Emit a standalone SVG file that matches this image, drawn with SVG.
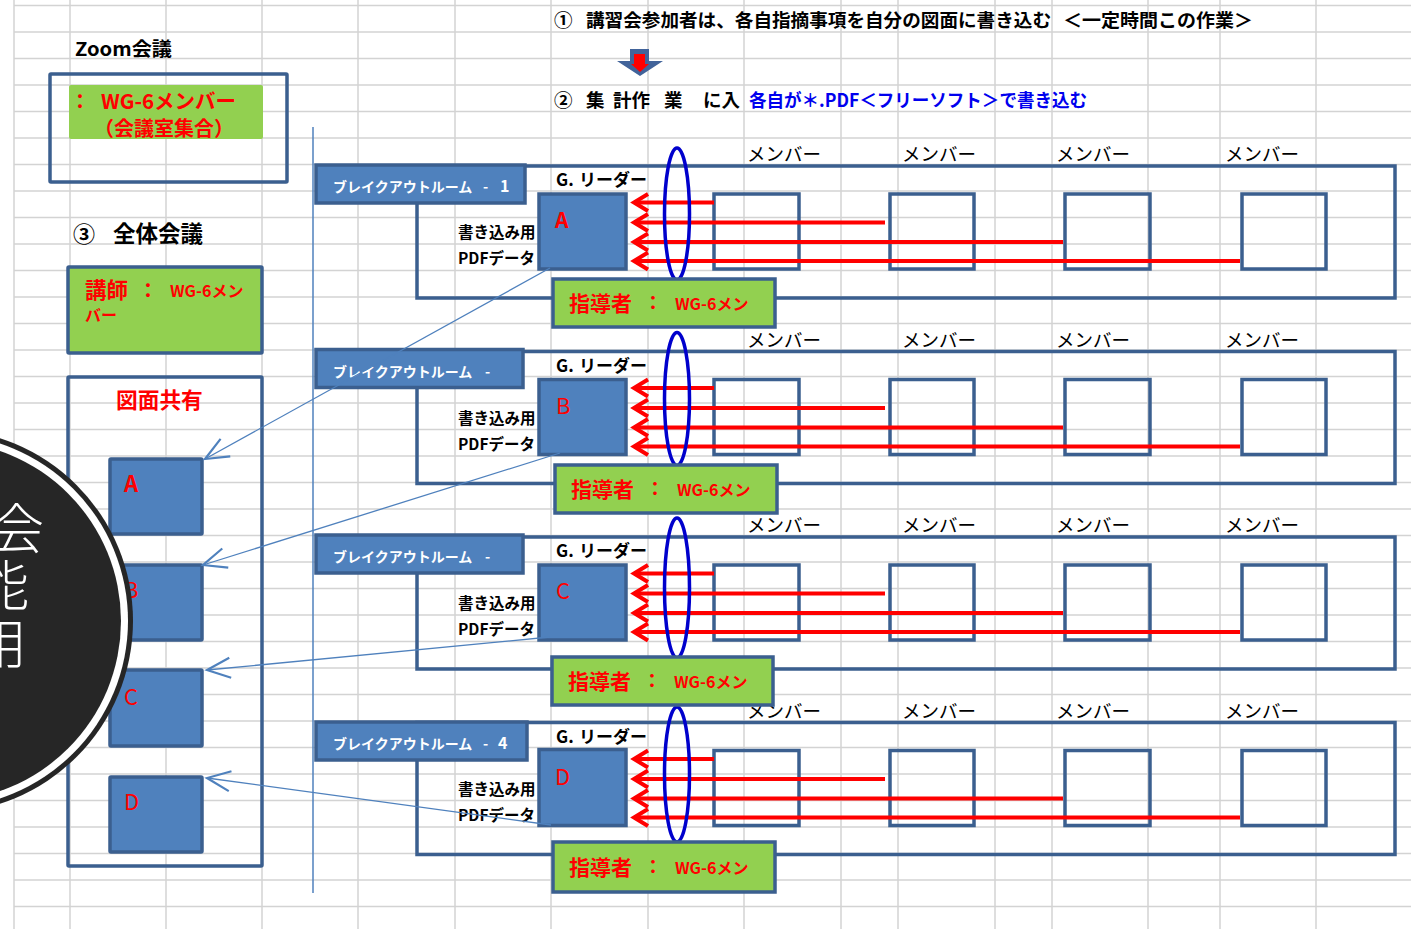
<svg xmlns="http://www.w3.org/2000/svg" width="1411" height="929" viewBox="0 0 1411 929">
<defs>
<style>
.grid{stroke:#d3d3d3;stroke-width:1.5;fill:none}
.frame{fill:none;stroke:#3b5f8f;stroke-width:3.5}
.bbox{fill:#4f81bd;stroke:#3b5f8f;stroke-width:3.5}
.gbox{fill:#92d050;stroke:#3b5f8f;stroke-width:3.5}
.ra{stroke:#ff0000;stroke-width:4;fill:none}
.ell{fill:none;stroke:#0000cc;stroke-width:3.5}
.conn{stroke:#4f81bd;stroke-width:1.3;fill:none;marker-end:url(#open)}
text{font-family:"Noto Sans CJK JP","Noto Sans",sans-serif}
.b{font-weight:bold}
.red{fill:#ff0000}
.blk{fill:#000000}
.wht{fill:#ffffff}
.mem{font-size:18.5px;fill:#000}
.ttl{font-size:14px;font-weight:bold;fill:#fff}
.num{font-size:16px;font-weight:bold;fill:#fff}
.lead{font-size:17px;font-weight:bold;fill:#000}
.pdf{font-size:15.5px;font-weight:bold;fill:#000}
</style>
<marker id="open" markerUnits="userSpaceOnUse" markerWidth="30" markerHeight="30" viewBox="-16 -8 18 16" refX="0" refY="0" orient="auto">
<path d="M-14,-6 L0,0 L-14,6" fill="none" stroke="#4f81bd" stroke-width="1.3"/>
</marker>
</defs>
<rect x="0" y="0" width="1411" height="929" fill="#ffffff"/>
<g id="grid" class="grid">
<path d="M14,0V929M70,0V929M166,0V929M262,0V929M358,0V929M455,0V929M551,0V929M648,0V929M744,0V929M841,0V929M898,0V929M995,0V929M1052,0V929M1148,0V929M1220,0V929M1316,0V929"/>
<path d="M14,5.5H1411M14,32H1411M14,58.5H1411M14,85H1411M14,111.5H1411M14,138H1411M14,164.5H1411M14,191H1411M14,217.5H1411M14,244H1411M14,270.5H1411M14,297H1411M14,323.5H1411M14,350H1411M14,376.5H1411M14,403H1411M14,429.5H1411M14,456H1411M14,482.5H1411M14,509H1411M14,535.5H1411M14,562H1411M14,588.5H1411M14,615H1411M14,641.5H1411M14,668H1411M14,694.5H1411M14,721H1411M14,747.5H1411M14,774H1411M14,800.5H1411M14,827H1411M14,853.5H1411M14,880H1411M14,906.5H1411"/>
</g>

<g id="step1">
<text x="554" y="27" class="b" font-size="18.5">①</text>
<text x="586" y="27" class="b" font-size="18.5" textLength="465" lengthAdjust="spacingAndGlyphs">講習会参加者は、各自指摘事項を自分の図面に書き込む</text>
<text x="1063" y="27" class="b" font-size="18.5" textLength="190" lengthAdjust="spacingAndGlyphs">＜一定時間この作業＞</text>
</g>
<g id="down-arrow">
<path d="M630,49 L649,49 L649,61 L663,61 L640,76 L617,61 L630,61 Z" fill="#41639a"/>
<path d="M634,54 L645,54 L645,64 L649,64 L640,72 L631,64 L634,64 Z" fill="#ff0000"/>
</g>
<g id="step2">
<text x="554" y="107" class="b" font-size="18.5">②</text>
<text x="586" y="107" class="b" font-size="18.5">集</text>
<text x="613" y="107" class="b" font-size="18.5">計作</text>
<text x="664" y="107" class="b" font-size="18.5">業</text>
<text x="703" y="107" class="b" font-size="18.5">に入</text>
<text x="749" y="107" class="b" font-size="18" fill="#0000ee" textLength="338" lengthAdjust="spacingAndGlyphs">各自が＊.PDF＜フリーソフト＞で書き込む</text>
</g>

<g id="zoom-meeting">
<text x="75" y="56" class="b" font-size="19" textLength="97" lengthAdjust="spacingAndGlyphs">Zoom会議</text>
<rect class="frame" x="50" y="74" width="237" height="108" rx="1"/>
<rect x="69" y="85" width="194" height="54" rx="2" fill="#92d050"/>
<text x="80" y="109" class="b red" font-size="20" text-anchor="middle">：</text>
<text x="101" y="109" class="b red" font-size="20.5">WG-6メンバー</text>
<text x="94" y="136" class="b red" font-size="20">（会議室集合）</text>
</g>

<g id="plenary-title">
<text x="73" y="242" class="b" font-size="22">③</text>
<text x="113" y="242" class="b" font-size="22.5">全体会議</text>
</g>
<g id="lecturer">
<rect class="gbox" x="68" y="267" width="194" height="86" rx="1"/>
<text x="85" y="298" class="b red" font-size="21.5">講師</text>
<text x="148" y="298" class="b red" font-size="20" text-anchor="middle">：</text>
<text x="170" y="297" class="b red" font-size="16">WG-6メン</text>
<text x="85" y="321" class="b red" font-size="16">バー</text>
</g>
<g id="drawing-share">
<rect class="frame" x="68" y="377" width="194" height="489" rx="1"/>
<text x="116" y="408" class="b red" font-size="21.7">図面共有</text>
<rect class="bbox" x="110" y="459" width="92" height="75" rx="1"/>
<text x="124" y="492" class="b red" font-size="22">A</text>
<rect class="bbox" x="110" y="565" width="92" height="75" rx="1"/>
<text x="124" y="598" class="red" font-size="22">B</text>
<rect class="bbox" x="110" y="670" width="92" height="76" rx="1"/>
<text x="124" y="705" class="red" font-size="22">C</text>
<rect class="bbox" x="110" y="777" width="92" height="75" rx="1"/>
<text x="124" y="810" class="red" font-size="22">D</text>
</g>

<g id="divider">
<line x1="313" y1="127" x2="313" y2="893" stroke="#4f81bd" stroke-width="1.5"/>
</g>

<g id="room1">
<rect class="frame" x="417" y="166" width="978" height="132"/>
<text x="747" y="161" class="mem">メンバー</text>
<text x="902" y="161" class="mem">メンバー</text>
<text x="1056" y="161" class="mem">メンバー</text>
<text x="1225" y="161" class="mem">メンバー</text>
<rect class="frame" x="714" y="194" width="85" height="75"/>
<rect class="frame" x="890" y="194" width="84" height="75"/>
<rect class="frame" x="1065" y="194" width="85" height="75"/>
<rect class="frame" x="1242" y="194" width="84" height="75"/>
<path class="ra" d="M636,202.5H714M636,222.5H885M636,242H1063M636,261H1240"/>
<path class="ra" d="M648,194L634,202.5L648,211M648,214L634,222.5L648,231M648,233.5L634,242L648,250.5M648,252.5L634,261L648,269.5"/>
<ellipse class="ell" cx="677" cy="214" rx="12.5" ry="66"/>
<rect class="bbox" x="539" y="194" width="87" height="75"/>
<text x="555" y="228" class="b red" font-size="21">A</text>
<text x="556" y="186" class="lead">G.</text>
<text x="579" y="186" class="lead">リーダー</text>
<text x="458" y="238" class="pdf">書き込み用</text>
<text x="458" y="264" class="pdf">PDFデータ</text>
<rect class="bbox" x="316" y="165" width="209" height="38"/>
<text x="333" y="192" class="ttl">ブレイクアウトルーム</text>
<text x="483" y="192" class="ttl">-</text>
<text x="500" y="192" class="num">1</text>
</g>

<g id="room2" transform="translate(0,185.5)">
<rect class="frame" x="417" y="166" width="978" height="132"/>
<text x="747" y="161" class="mem">メンバー</text>
<text x="902" y="161" class="mem">メンバー</text>
<text x="1056" y="161" class="mem">メンバー</text>
<text x="1225" y="161" class="mem">メンバー</text>
<rect class="frame" x="714" y="194" width="85" height="75"/>
<rect class="frame" x="890" y="194" width="84" height="75"/>
<rect class="frame" x="1065" y="194" width="85" height="75"/>
<rect class="frame" x="1242" y="194" width="84" height="75"/>
<path class="ra" d="M636,202.5H714M636,222.5H885M636,242H1063M636,261H1240"/>
<path class="ra" d="M648,194L634,202.5L648,211M648,214L634,222.5L648,231M648,233.5L634,242L648,250.5M648,252.5L634,261L648,269.5"/>
<ellipse class="ell" cx="677" cy="213.5" rx="12.5" ry="66.5"/>
<rect class="bbox" x="539" y="194" width="87" height="75"/>
<text x="556" y="228" class="red" font-size="22">B</text>
<text x="556" y="186" class="lead">G.</text>
<text x="579" y="186" class="lead">リーダー</text>
<text x="458" y="238" class="pdf">書き込み用</text>
<text x="458" y="264" class="pdf">PDFデータ</text>
<rect class="bbox" x="316" y="164" width="207" height="38"/>
<text x="333" y="191" class="ttl">ブレイクアウトルーム</text>
<text x="485" y="191" class="ttl">-</text>
</g>

<g id="room3" transform="translate(0,371)">
<rect class="frame" x="417" y="166" width="978" height="132"/>
<text x="747" y="161" class="mem">メンバー</text>
<text x="902" y="161" class="mem">メンバー</text>
<text x="1056" y="161" class="mem">メンバー</text>
<text x="1225" y="161" class="mem">メンバー</text>
<rect class="frame" x="714" y="194" width="85" height="75"/>
<rect class="frame" x="890" y="194" width="84" height="75"/>
<rect class="frame" x="1065" y="194" width="85" height="75"/>
<rect class="frame" x="1242" y="194" width="84" height="75"/>
<path class="ra" d="M636,202.5H714M636,222.5H885M636,242H1063M636,261H1240"/>
<path class="ra" d="M648,194L634,202.5L648,211M648,214L634,222.5L648,231M648,233.5L634,242L648,250.5M648,252.5L634,261L648,269.5"/>
<ellipse class="ell" cx="677" cy="217" rx="12.5" ry="70"/>
<rect class="bbox" x="539" y="194" width="87" height="75"/>
<text x="556" y="228" class="red" font-size="22">C</text>
<text x="556" y="186" class="lead">G.</text>
<text x="579" y="186" class="lead">リーダー</text>
<text x="458" y="238" class="pdf">書き込み用</text>
<text x="458" y="264" class="pdf">PDFデータ</text>
<rect class="bbox" x="316" y="164" width="207" height="38"/>
<text x="333" y="191" class="ttl">ブレイクアウトルーム</text>
<text x="485" y="191" class="ttl">-</text>
</g>

<g id="room4" transform="translate(0,556.5)">
<rect class="frame" x="417" y="166" width="978" height="132"/>
<text x="747" y="161" class="mem">メンバー</text>
<text x="902" y="161" class="mem">メンバー</text>
<text x="1056" y="161" class="mem">メンバー</text>
<text x="1225" y="161" class="mem">メンバー</text>
<rect class="frame" x="714" y="194" width="85" height="75"/>
<rect class="frame" x="890" y="194" width="84" height="75"/>
<rect class="frame" x="1065" y="194" width="85" height="75"/>
<rect class="frame" x="1242" y="194" width="84" height="75"/>
<path class="ra" d="M636,202.5H714M636,222.5H885M636,242H1063M636,261H1240"/>
<path class="ra" d="M648,194L634,202.5L648,211M648,214L634,222.5L648,231M648,233.5L634,242L648,250.5M648,252.5L634,261L648,269.5"/>
<ellipse class="ell" cx="677" cy="218" rx="12.5" ry="67.5"/>
<rect class="bbox" x="539" y="193" width="87" height="76"/>
<text x="555" y="228" class="red" font-size="22">D</text>
<text x="556" y="186" class="lead">G.</text>
<text x="579" y="186" class="lead">リーダー</text>
<text x="458" y="238" class="pdf">書き込み用</text>
<text x="458" y="264" class="pdf">PDFデータ</text>
<rect class="bbox" x="316" y="165.5" width="211" height="38"/>
<text x="333" y="192" class="ttl">ブレイクアウトルーム</text>
<text x="483" y="192" class="ttl">-</text>
<text x="498" y="192" class="num">4</text>
</g>

<g id="instructor1">
<rect class="gbox" x="553" y="279" width="222" height="48"/>
<text x="569" y="311" class="b red" font-size="21">指導者</text>
<text x="653" y="310" class="b red" font-size="19" text-anchor="middle">：</text>
<text x="675" y="310" class="b red" font-size="16">WG-6メン</text>
</g>
<g id="instructor2">
<rect class="gbox" x="555" y="465" width="222" height="48"/>
<text x="571" y="497" class="b red" font-size="21">指導者</text>
<text x="655" y="496" class="b red" font-size="19" text-anchor="middle">：</text>
<text x="677" y="496" class="b red" font-size="16">WG-6メン</text>
</g>
<g id="instructor3">
<rect class="gbox" x="552" y="657" width="221" height="48"/>
<text x="568" y="689" class="b red" font-size="21">指導者</text>
<text x="652" y="688" class="b red" font-size="19" text-anchor="middle">：</text>
<text x="674" y="688" class="b red" font-size="16">WG-6メン</text>
</g>
<g id="instructor4">
<rect class="gbox" x="553" y="842" width="222" height="50"/>
<text x="569" y="875" class="b red" font-size="21">指導者</text>
<text x="653" y="874" class="b red" font-size="19" text-anchor="middle">：</text>
<text x="675" y="874" class="b red" font-size="16">WG-6メン</text>
</g>

<g id="connectors">
<line class="conn" x1="550" y1="268" x2="205" y2="459"/>
<line class="conn" x1="560" y1="453" x2="203" y2="565"/>
<line class="conn" x1="550" y1="637" x2="207" y2="670"/>
<line class="conn" x1="551" y1="825" x2="207" y2="778"/>
</g>

<g id="badge">
<circle cx="-59" cy="621" r="192" fill="#262626"/>
<circle cx="-59" cy="621" r="187" fill="#ffffff"/>
<circle cx="-59" cy="621" r="180" fill="#262626"/>
<text x="44" y="549" class="wht" font-size="54" font-weight="300" text-anchor="end">会</text>
<text x="29" y="606" class="wht" font-size="54" font-weight="300" text-anchor="end">能</text>
<text x="27" y="664" class="wht" font-size="54" font-weight="300" text-anchor="end">用</text>
</g>
</svg>
